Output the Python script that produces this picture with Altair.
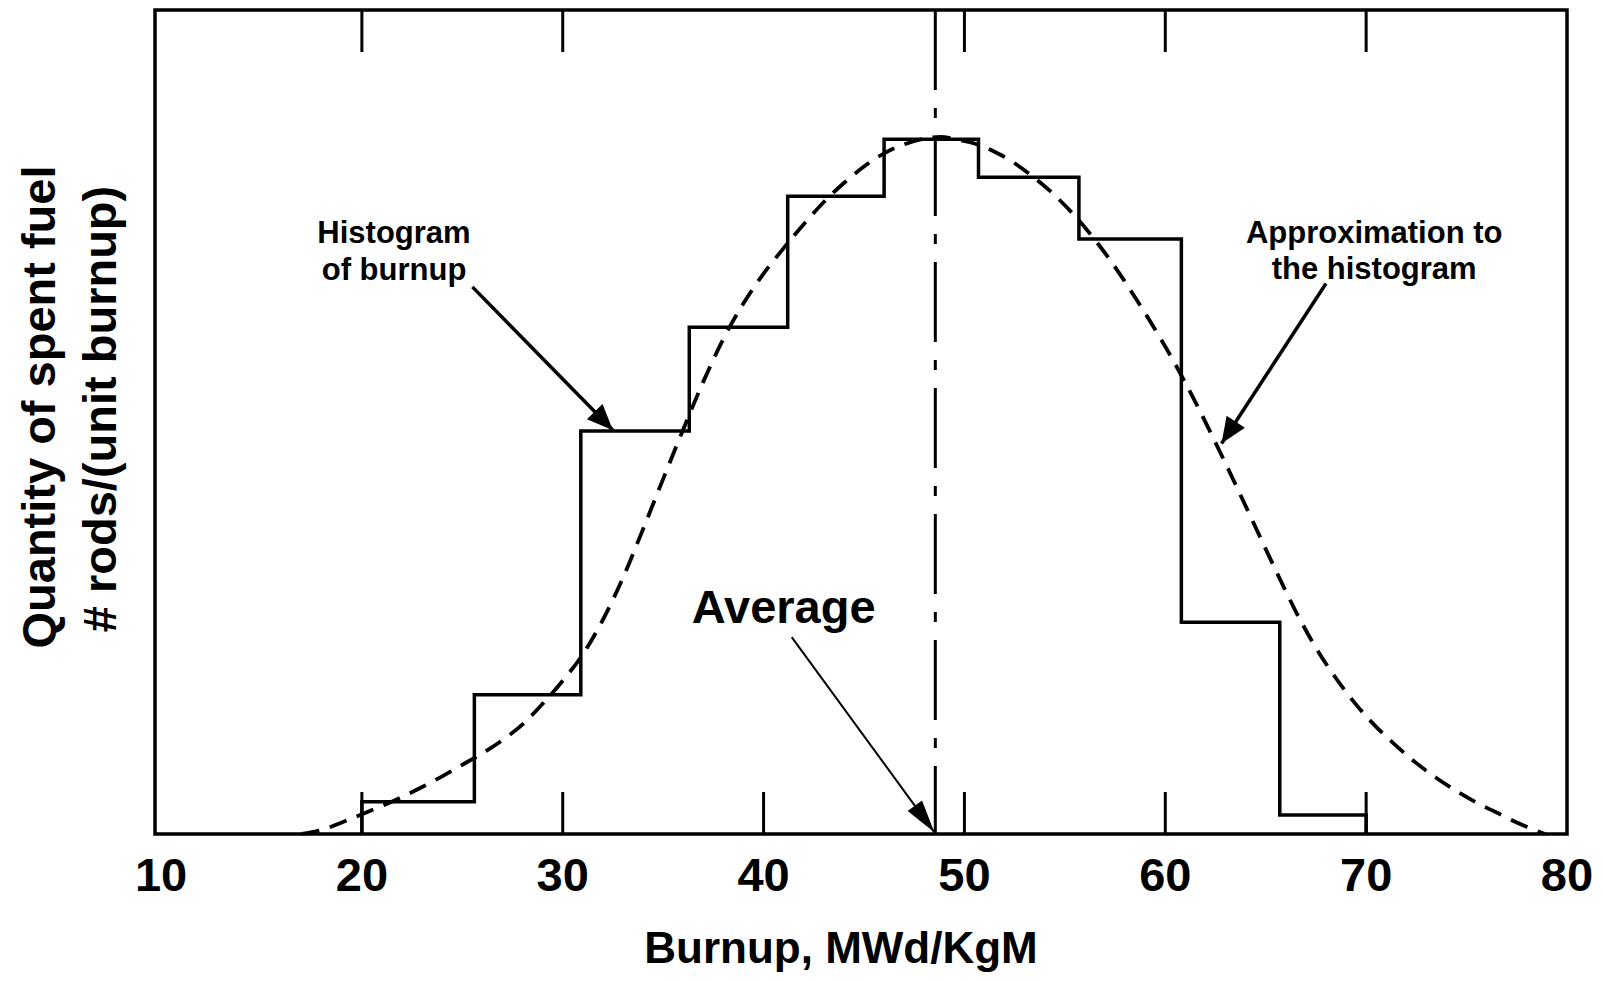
import math
import altair as alt
import pandas as pd

# ---------------- data ----------------
bin_edges = [20, 25.6, 30.9, 36.3, 41.2, 46.0, 50.7, 55.7, 60.8, 65.7, 70]
bin_heights = [3.9, 16.9, 48.9, 61.5, 77.4, 84.3, 79.7, 72.2, 25.7, 2.3]

curve_x = [17.0, 18, 19, 20, 21, 22, 23, 24, 25, 26, 27, 28, 29, 30, 31, 32, 33, 34,
           35, 36, 37, 38, 39, 40, 41, 42, 43, 44, 45, 46, 47, 48, 48.8,
           49.6, 50.5, 51.5, 52.5, 53.5, 54.5, 55.5, 56.5, 57.5, 58.5, 59.5, 60.5,
           61.5, 62.5, 63.5, 64.5, 65.5, 66.5, 67.5, 68.5, 69.5, 70.5, 71.5, 72.5,
           73.5, 74.5, 75.5, 76.5, 77.5, 78.9]
curve_y = [0.0, 0.5, 1.4, 2.4, 3.4, 4.5, 5.7, 7.0, 8.4, 9.8, 11.4, 13.3, 15.8, 18.6,
           21.8, 26.0, 31.1, 37.0, 43.1, 49.1, 54.9, 60.1, 64.4, 68.0, 71.1, 74.0,
           76.7, 79.0, 81.0, 82.6, 83.7, 84.4, 84.6,
           84.3, 83.8, 82.8, 81.4, 79.6, 77.5, 75.0, 72.1, 68.8, 65.1, 61.2, 57.0,
           52.4, 47.5, 42.4, 37.2, 32.0, 27.0, 22.6, 18.9, 15.7, 13.0, 10.7, 8.6,
           6.8, 5.2, 3.8, 2.6, 1.4, 0.0]

average_burnup = 48.55

x_label_values = [10, 20, 30, 40, 50, 60, 70, 80]
bottom_tick_values = [20, 30, 40, 50, 60, 70]
top_tick_values = [20, 30, 50, 60, 70]

annot_text = ["Histogram", "of burnup", "Approximation to", "the histogram", "Average"]
annot_x = [21.6, 21.6, 70.4, 70.4, 41.0]
annot_y = [72.8, 68.3, 72.8, 68.4, 27.3]
annot_fontsize = [31, 31, 31, 31, 47]

arrow_x0 = [25.5, 68.0, 41.4]
arrow_y0 = [66.4, 66.8, 23.9]
arrow_x1 = [32.5, 62.8, 48.5]
arrow_y1 = [49.0, 47.4, 0.2]
arrow_width = [3.5, 3.5, 2]
arrow_head_len = [26, 26, 33]
arrow_head_shape = ["M0,0L-0.42,1L0.42,1Z", "M0,0L-0.42,1L0.42,1Z", "M0,0L-0.27,1L0.27,1Z"]

y_title_lines = ["Quantity of spent fuel", "# rods/(unit burnup)"]
x_title = "Burnup, MWd/KgM"

# ---------------- layout ----------------
W, H = 1412, 824
XMIN, XMAX = 9.7, 80
YMIN, YMAX = 0, 100
PX_X = W / (XMAX - XMIN)
PX_Y = H / (YMAX - YMIN)
FONT = "Liberation Sans"
TICK_LEN = 42

xscale = alt.Scale(domain=[XMIN, XMAX], nice=False, zero=False)
yscale = alt.Scale(domain=[YMIN, YMAX], nice=False, zero=False)


def X(field):
    return alt.X(field, scale=xscale, axis=None)


def Y(field):
    return alt.Y(field, scale=yscale, axis=None)


# histogram step outline
step_x, step_y = [bin_edges[0]], [0]
for i, h in enumerate(bin_heights):
    step_x += [bin_edges[i], bin_edges[i + 1]]
    step_y += [h, h]
step_x.append(bin_edges[-1])
step_y.append(0)
hist_df = pd.DataFrame({"x": step_x, "y": step_y, "i": range(len(step_x))})
curve_df = pd.DataFrame({"x": curve_x, "y": curve_y})

hist = alt.Chart(hist_df).mark_line(color="black", strokeWidth=3.5, strokeJoin="miter").encode(
    x=X("x:Q"), y=Y("y:Q"), order="i:Q",
)

curve = alt.Chart(curve_df).mark_line(color="black", strokeWidth=3.8, strokeDash=[18, 11],
                                      interpolate="monotone").encode(
    x=X("x:Q"), y=Y("y:Q"),
)

avg = alt.Chart(pd.DataFrame({"x": [average_burnup]})).mark_rule(
    color="black", strokeWidth=3, strokeDash=[80, 18, 10, 18]).encode(
    x=X("x:Q"), y=alt.value(0), y2=alt.value(H),
)

bticks = alt.Chart(pd.DataFrame({"x": bottom_tick_values})).mark_rule(
    color="black", strokeWidth=3).encode(
    x=X("x:Q"), y=alt.value(H), y2=alt.value(H - TICK_LEN),
)
tticks = alt.Chart(pd.DataFrame({"x": top_tick_values})).mark_rule(
    color="black", strokeWidth=3).encode(
    x=X("x:Q"), y=alt.value(0), y2=alt.value(TICK_LEN),
)

# tick labels along the bottom
xlabels = alt.Chart(pd.DataFrame({"x": x_label_values})).mark_text(
    font=FONT, fontWeight="bold", fontSize=47, color="black",
    align="center", baseline="middle").encode(
    x=X("x:Q"), y=alt.value(H + 43), text=alt.Text("x:Q", format="d"),
)

xtitle = alt.Chart(pd.DataFrame({"t": [x_title]})).mark_text(
    font=FONT, fontWeight="bold", fontSize=44, color="black",
    align="center", baseline="alphabetic").encode(
    x=alt.value(686), y=alt.value(H + 129), text="t:N",
)

annot_df = pd.DataFrame({"x": annot_x, "y": annot_y, "t": annot_text, "fs": annot_fontsize})
annots = alt.Chart(annot_df).mark_text(font=FONT, fontWeight="bold", color="black",
                                       align="center", baseline="middle").encode(
    x=X("x:Q"), y=Y("y:Q"), text="t:N",
    size=alt.Size("fs:Q", scale=None),
)

angles = []
for x0, y0, x1, y1 in zip(arrow_x0, arrow_y0, arrow_x1, arrow_y1):
    dx = (x1 - x0) * PX_X
    dy = -(y1 - y0) * PX_Y
    angles.append(math.degrees(math.atan2(dx, -dy)) % 360)
arrow_df = pd.DataFrame({"x0": arrow_x0, "y0": arrow_y0, "x1": arrow_x1, "y1": arrow_y1,
                         "w": arrow_width, "ang": angles, "shape": arrow_head_shape,
                         "sz": [(2 * L) ** 2 for L in arrow_head_len]})
shafts = alt.Chart(arrow_df).mark_rule(color="black").encode(
    x=X("x0:Q"), y=Y("y0:Q"), x2="x1:Q", y2="y1:Q",
    strokeWidth=alt.StrokeWidth("w:Q", scale=None),
)
heads = alt.Chart(arrow_df).mark_point(filled=True, color="black", opacity=1, strokeWidth=0).encode(
    x=X("x1:Q"), y=Y("y1:Q"),
    shape=alt.Shape("shape:N", scale=None),
    size=alt.Size("sz:Q", scale=None),
    angle=alt.Angle("ang:Q", scale=None),
)

ytitle1 = alt.Chart(pd.DataFrame({"t": [y_title_lines[0]]})).mark_text(
    font=FONT, fontWeight="bold", fontSize=47, color="black",
    angle=270, align="center", baseline="middle").encode(
    x=alt.value(-114), y=alt.value(397), text="t:N",
)
ytitle2 = alt.Chart(pd.DataFrame({"t": [y_title_lines[1]]})).mark_text(
    font=FONT, fontWeight="bold", fontSize=47, color="black",
    angle=270, align="center", baseline="middle").encode(
    x=alt.value(-53), y=alt.value(399), text="t:N",
)

chart = alt.layer(hist, curve, avg, bticks, tticks, xlabels, xtitle, annots, shafts, heads,
                  ytitle1, ytitle2).properties(
    width=W, height=H,
    padding={"left": 147, "top": 2, "right": 26, "bottom": 139},
    autosize=alt.AutoSizeParams(type="none"),
    background="white",
).configure_view(stroke="black", strokeWidth=3.5)

chart.save("out.html", embed_options={"renderer": "svg", "actions": False})
